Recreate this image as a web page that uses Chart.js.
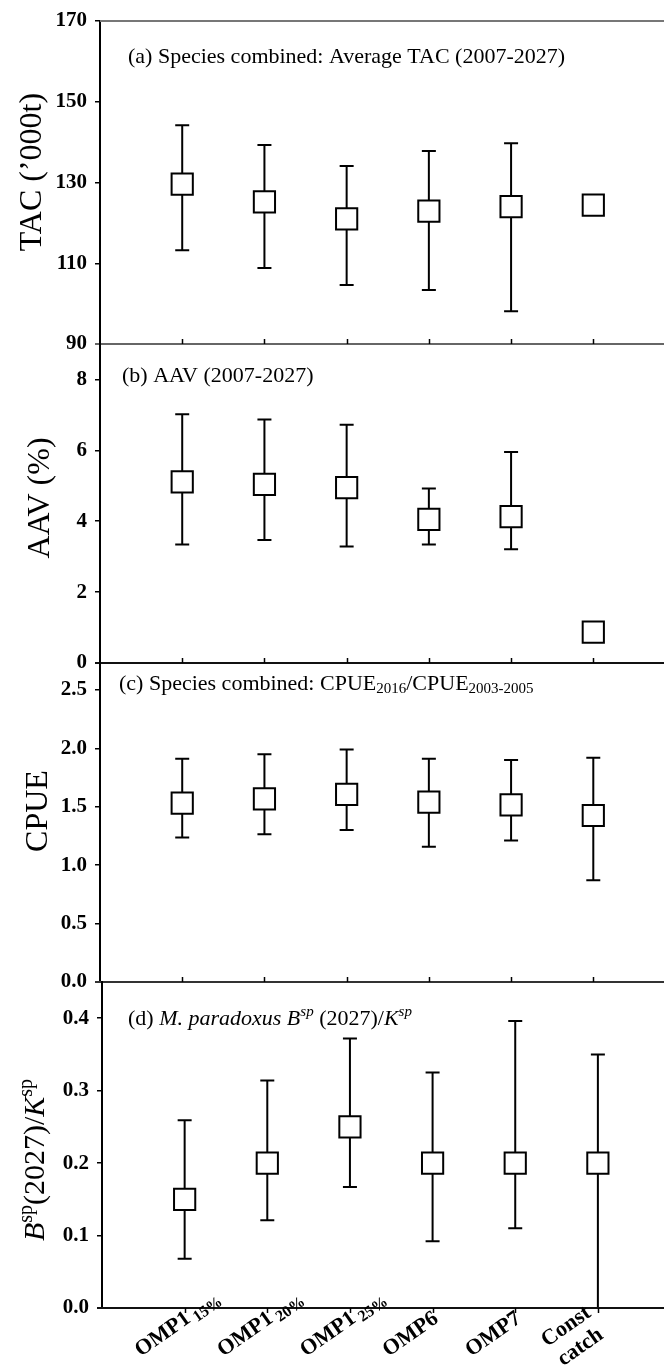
<!DOCTYPE html>
<html>
<head>
<meta charset="utf-8">
<script src="https://cdn.jsdelivr.net/npm/chart.js@4.4.1/dist/chart.umd.min.js"></script>
<style>
html, body { margin: 0; padding: 0; background: #fff; }
#wrap { position: relative; width: 664px; height: 1371px; overflow: hidden; background: #fff; }
#wrap canvas { position: absolute; left: 0; top: 0; }
</style>
</head>
<body>
<div id="wrap">
  <canvas id="cA" width="664" height="1371"></canvas>
  <canvas id="cB" width="664" height="1371"></canvas>
  <canvas id="cC" width="664" height="1371"></canvas>
  <canvas id="cD" width="664" height="1371"></canvas>
</div>
<script>
// ---------------- data ----------------
const categoryNames = ['OMP1', 'OMP1', 'OMP1', 'OMP6', 'OMP7', 'Const'];
const categorySubscripts = ['15%', '20%', '25%', '', '', ''];
const categorySecondLines = ['', '', '', '', '', 'catch'];
const categoryX = [1, 2, 3, 4, 5, 6];

// (a) Species combined: Average TAC (2007-2027)
const tacTicks = [90, 110, 130, 150, 170];
const tacMedian = [129.6, 125.2, 121.0, 122.9, 124.0, 124.4];
const tacLower = [113.2, 108.8, 104.6, 103.4, 98.1, null];
const tacUpper = [144.2, 139.3, 134.1, 137.8, 139.7, null];

// (b) AAV (2007-2027)
const aavTicks = [0, 2, 4, 6, 8];
const aavMedian = [5.11, 5.04, 4.95, 4.05, 4.13, 0.87];
const aavLower = [3.34, 3.47, 3.29, 3.34, 3.21, null];
const aavUpper = [7.02, 6.87, 6.72, 4.92, 5.95, null];

// (c) Species combined: CPUE2016/CPUE2003-2005
const cpueTicks = [0.0, 0.5, 1.0, 1.5, 2.0, 2.5];
const cpueMedian = [1.53, 1.567, 1.605, 1.54, 1.515, 1.425];
const cpueLower = [1.237, 1.265, 1.30, 1.157, 1.21, 0.87];
const cpueUpper = [1.91, 1.95, 1.99, 1.91, 1.90, 1.92];

// (d) M. paradoxus Bsp(2027)/Ksp
const bspTicks = [0.0, 0.1, 0.2, 0.3, 0.4];
const bspMedian = [0.15, 0.20, 0.25, 0.20, 0.20, 0.20];
const bspLower = [0.068, 0.121, 0.167, 0.092, 0.110, 0.0];
const bspUpper = [0.259, 0.314, 0.372, 0.325, 0.396, 0.350];

// ---------------- drawing helpers ----------------
const SERIF = "'Liberation Serif', 'Times New Roman', serif";
const H = 1371;

function fontStr(s) {
  return (s.italic ? 'italic ' : '') + (s.bold ? 'bold ' : '') + s.size + 'px ' + SERIF;
}
function richWidth(ctx, segs) {
  let w = 0;
  segs.forEach(s => { ctx.font = fontStr(s); w += ctx.measureText(s.t).width; });
  return w;
}
function drawRich(ctx, segs, x, y) {
  ctx.textBaseline = 'alphabetic';
  ctx.textAlign = 'left';
  let cx = x;
  segs.forEach(s => {
    ctx.font = fontStr(s);
    ctx.fillText(s.t, cx, y + (s.dy || 0));
    cx += ctx.measureText(s.t).width;
  });
}

const panelDefs = [
  {
    canvas: 'cA', area: { left: 100, top: 21, bottom: 344 }, xMax: 6.86,
    yMin: 90, yMax: 170, ticks: tacTicks, dec: 0,
    mid: tacMedian, lo: tacLower, hi: tacUpper,
    tickDir: -1, topLine: '#777', bottomLine: '#666',
    title: [{ t: 'TAC (\u2019000t)', size: 32 }], titleX: 30, titleY: 172,
    label: [{ t: '(a) Species combined: Average TAC (2007-2027)', size: 22 }], labelX: 128, labelY: 63
  },
  {
    canvas: 'cB', area: { left: 100, top: 344, bottom: 663 }, xMax: 6.86,
    yMin: 0, yMax: 9, ticks: aavTicks, dec: 0,
    mid: aavMedian, lo: aavLower, hi: aavUpper,
    tickDir: -1, topLine: null, bottomLine: '#111',
    title: [{ t: 'AAV (%)', size: 32 }], titleX: 38, titleY: 498,
    label: [{ t: '(b) AAV (2007-2027)', size: 22 }], labelX: 122, labelY: 382
  },
  {
    canvas: 'cC', area: { left: 100, top: 663, bottom: 982 }, xMax: 6.86,
    yMin: 0, yMax: 2.73, ticks: cpueTicks, dec: 1,
    mid: cpueMedian, lo: cpueLower, hi: cpueUpper,
    tickDir: -1, topLine: null, bottomLine: '#333',
    title: [{ t: 'CPUE', size: 32 }], titleX: 36, titleY: 811,
    label: [
      { t: '(c) Species combined: CPUE', size: 22 },
      { t: '2016', size: 15, dy: 3 },
      { t: '/CPUE', size: 22 },
      { t: '2003-2005', size: 15, dy: 3 }
    ], labelX: 119, labelY: 690
  },
  {
    canvas: 'cD', area: { left: 102, top: 982, bottom: 1308 }, xMax: 6.80,
    yMin: 0, yMax: 0.45, ticks: bspTicks, dec: 1,
    mid: bspMedian, lo: bspLower, hi: bspUpper,
    tickDir: 1, topLine: null, bottomLine: '#111', xLabels: true,
    title: [
      { t: 'B', size: 30, italic: true },
      { t: 'sp', size: 20, dy: -12 },
      { t: '(2027)/', size: 30 },
      { t: 'K', size: 30, italic: true },
      { t: 'sp', size: 20, dy: -12 }
    ], titleX: 34, titleY: 1160,
    label: [
      { t: '(d) ', size: 22 },
      { t: 'M. paradoxus B', size: 22, italic: true },
      { t: 'sp', size: 15, italic: true, dy: -9 },
      { t: ' (2027)/', size: 22 },
      { t: 'K', size: 22, italic: true },
      { t: 'sp', size: 15, italic: true, dy: -9 }
    ], labelX: 128, labelY: 1025
  }
];

function makeDecor(p) {
  return {
    id: 'panelDecor' + p.canvas,
    beforeDatasetsDraw(chart) {
      const ctx = chart.ctx, xs = chart.scales.x, ys = chart.scales.y;
      ctx.save();
      ctx.strokeStyle = '#000';
      ctx.lineWidth = 2;
      categoryX.forEach((cx, i) => {
        const lo = p.lo[i], hi = p.hi[i];
        if (lo == null || hi == null) return;
        const px = xs.getPixelForValue(cx);
        const y1 = ys.getPixelForValue(lo), y2 = ys.getPixelForValue(hi);
        ctx.beginPath();
        ctx.moveTo(px, y1); ctx.lineTo(px, y2);
        ctx.moveTo(px - 7, y1); ctx.lineTo(px + 7, y1);
        ctx.moveTo(px - 7, y2); ctx.lineTo(px + 7, y2);
        ctx.stroke();
      });
      ctx.restore();
    },
    afterDraw(chart) {
      const ctx = chart.ctx, xs = chart.scales.x, ca = chart.chartArea;
      ctx.save();
      // panel frame lines
      ctx.lineWidth = 2;
      if (p.topLine) {
        ctx.strokeStyle = p.topLine;
        ctx.beginPath(); ctx.moveTo(ca.left, ca.top); ctx.lineTo(664, ca.top); ctx.stroke();
      }
      ctx.strokeStyle = p.bottomLine;
      ctx.beginPath(); ctx.moveTo(ca.left - 5, ca.bottom); ctx.lineTo(664, ca.bottom); ctx.stroke();
      // category tick marks
      ctx.strokeStyle = '#000';
      ctx.lineWidth = 1.5;
      categoryX.forEach(cx => {
        const px = Math.round(xs.getPixelForValue(cx)) + 0.5;
        ctx.beginPath(); ctx.moveTo(px, ca.bottom); ctx.lineTo(px, ca.bottom + 5 * p.tickDir); ctx.stroke();
      });
      ctx.fillStyle = '#000';
      // panel label
      drawRich(ctx, p.label, p.labelX, p.labelY);
      // y axis title (rotated)
      const tw = richWidth(ctx, p.title);
      ctx.save();
      ctx.translate(p.titleX, p.titleY);
      ctx.rotate(-Math.PI / 2);
      drawRich(ctx, p.title, -tw / 2, p.title[0].size * 0.33);
      ctx.restore();
      // category labels under the last panel
      if (p.xLabels) {
        categoryX.forEach((cx, i) => {
          const px = xs.getPixelForValue(cx);
          ctx.save();
          ctx.translate(px - 44, ca.bottom + 49);
          ctx.rotate(-35 * Math.PI / 180);
          const line1 = [{ t: categoryNames[i], size: 22, bold: true }];
          if (categorySubscripts[i]) line1.push({ t: ' ' + categorySubscripts[i], size: 16, bold: true, dy: 4 });
          if (categorySecondLines[i]) {
            const line2 = [{ t: categorySecondLines[i], size: 22, bold: true }];
            const w1 = richWidth(ctx, line1), w2 = richWidth(ctx, line2);
            drawRich(ctx, line1, 0, -12);
            drawRich(ctx, line2, (w1 - w2) / 2, 13);
          } else {
            drawRich(ctx, line1, 0, 0);
          }
          ctx.restore();
        });
      }
      ctx.restore();
    }
  };
}

panelDefs.forEach(p => {
  const ctx = document.getElementById(p.canvas).getContext('2d');
  new Chart(ctx, {
    type: 'scatter',
    data: {
      datasets: [{
        data: categoryX.map((x, i) => ({ x: x, y: p.mid[i] })),
        pointStyle: 'rect',
        pointRadius: 15,
        pointHoverRadius: 15,
        pointBackgroundColor: '#fff',
        pointBorderColor: '#000',
        pointBorderWidth: 2,
        showLine: false,
        clip: false
      }]
    },
    options: {
      responsive: false,
      animation: false,
      events: [],
      layout: { autoPadding: false, padding: { left: 0, top: p.area.top, right: 0, bottom: H - p.area.bottom } },
      plugins: { legend: { display: false }, tooltip: { enabled: false } },
      scales: {
        x: { type: 'linear', min: 0, max: p.xMax, display: false },
        y: {
          type: 'linear', min: p.yMin, max: p.yMax,
          afterFit: (s) => { s.width = p.area.left; },
          afterBuildTicks: (s) => { s.ticks = p.ticks.map(v => ({ value: v })); },
          ticks: {
            callback: (v) => Number(v).toFixed(p.dec),
            font: { family: SERIF, size: 21, weight: 'bold' },
            color: '#000',
            padding: 8
          },
          grid: { drawOnChartArea: false, drawTicks: true, tickLength: 5, color: '#000', lineWidth: 1.5 },
          border: { display: true, color: '#000', width: 2 }
        }
      }
    },
    plugins: [makeDecor(p)]
  });
});
</script>
</body>
</html>
